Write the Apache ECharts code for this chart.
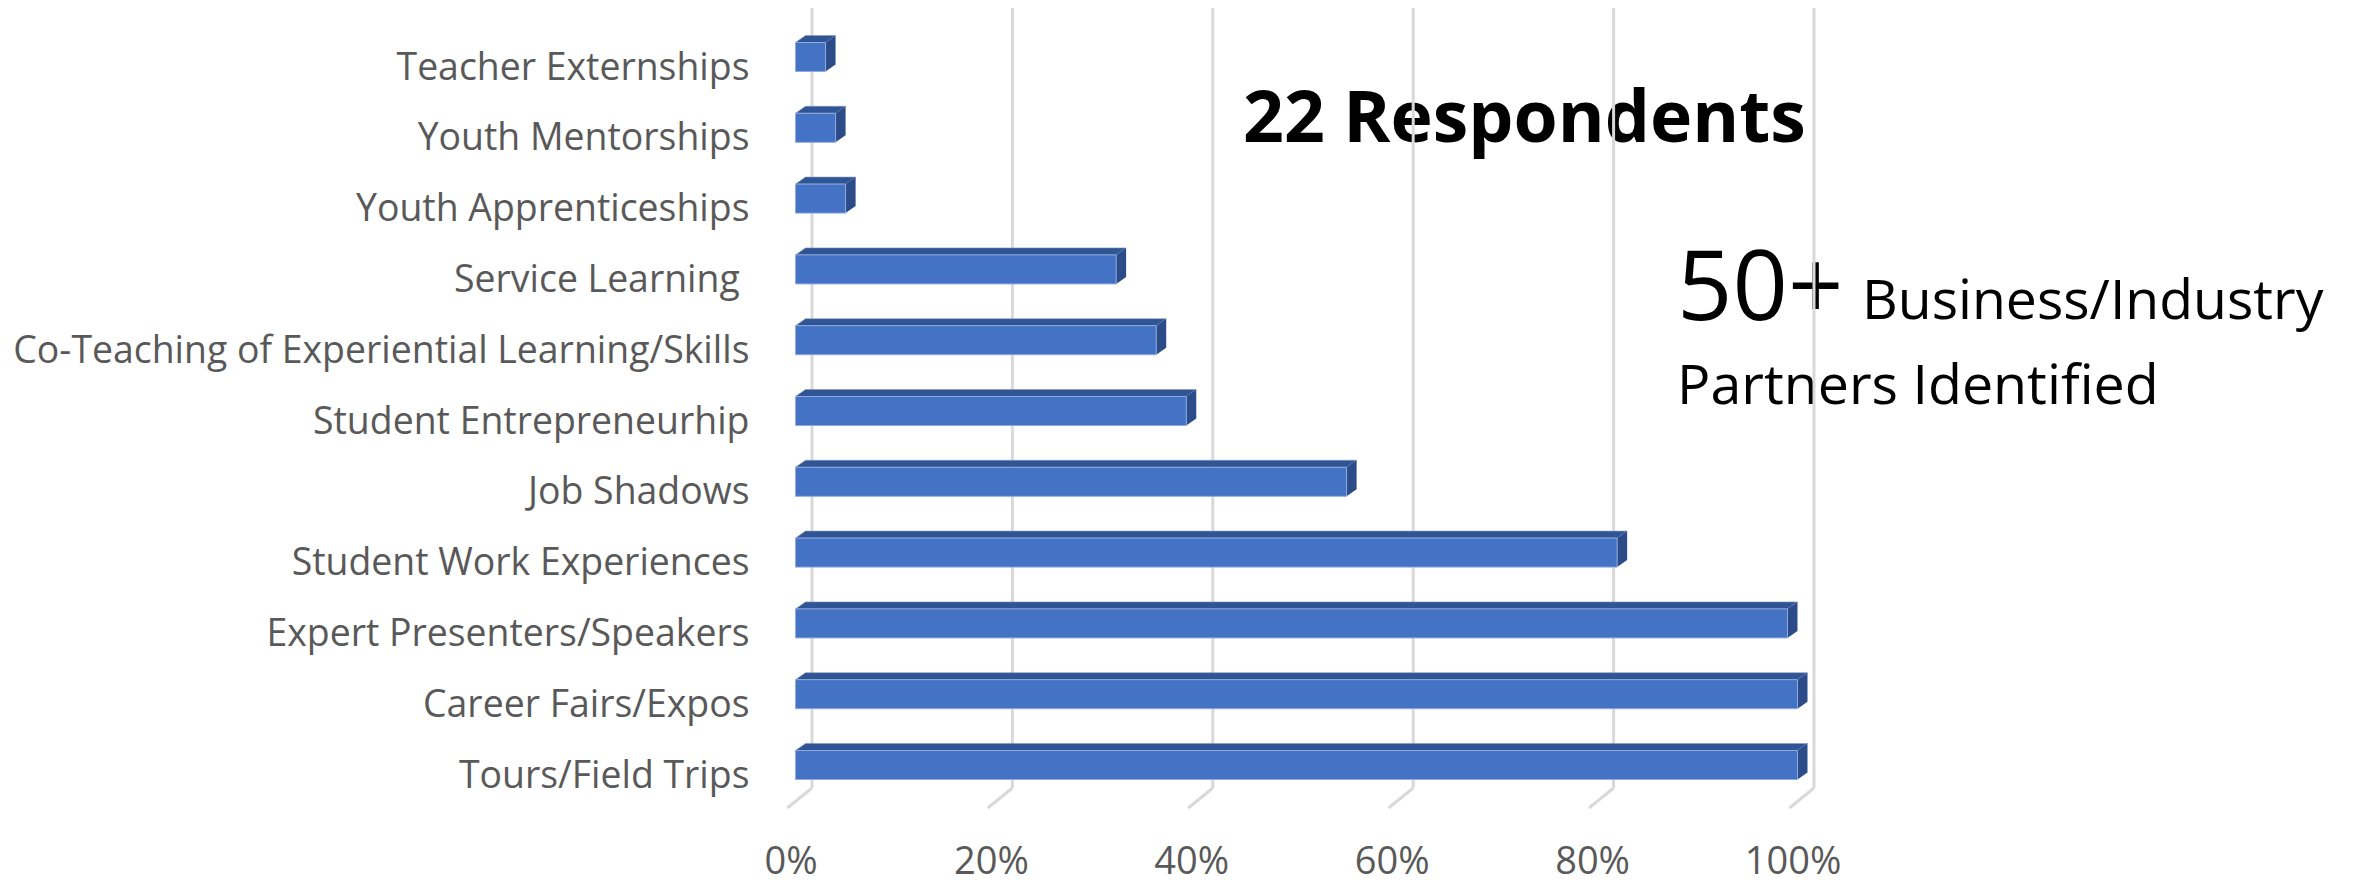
<!DOCTYPE html>
<html>
<head>
<meta charset="utf-8">
<script src="https://cdn.jsdelivr.net/npm/echarts@6/dist/echarts.min.js"></script>
<style>
  html, body { margin: 0; padding: 0; background: #ffffff; }
  #chart { width: 2354px; height: 886px; }
</style>
</head>
<body>
<div id="chart"></div>
<script>
// ---- data (bottom to top) ----
const categories = [
  'Tours/Field Trips',
  'Career Fairs/Expos',
  'Expert Presenters/Speakers',
  'Student Work Experiences',
  'Job Shadows',
  'Student Entrepreneurhip',
  'Co-Teaching of Experiential Learning/Skills',
  'Service Learning ',
  'Youth Apprenticeships',
  'Youth Mentorships',
  'Teacher Externships'
];
const values = [100, 100, 99, 82, 55, 39, 36, 32, 5, 4, 3];
const tickValues = [0, 20, 40, 60, 80, 100];

const FONT = "'Open Sans', 'Noto Sans', sans-serif";

const chart = echarts.init(document.getElementById('chart'), null, { renderer: 'svg' });

// 3D look parameters (pixels)
const DEPTH_X = 10, DEPTH_Y = 7;       // bar depth
const WALL_DX = 16.5, WALL_TOP = 13.6, WALL_BOT = 12.4; // back wall offset
const FLOOR_DX = -24.6, FLOOR_DY = 20; // floor lines

function renderGrid(params, api) {
  const v = api.value(0);
  const cs = params.coordSys;
  const p = api.coord([v, 0]);
  const bx = p[0] + WALL_DX;
  const yTop = cs.y - WALL_TOP;
  const yBot = cs.y + cs.height - WALL_BOT;
  const style = { stroke: '#D9D9D9', lineWidth: 3, fill: null };
  return {
    type: 'group',
    children: [
      { type: 'line', shape: { x1: bx, y1: yTop, x2: bx, y2: yBot }, style: style },
      { type: 'line', shape: { x1: bx, y1: yBot, x2: bx + FLOOR_DX, y2: yBot + FLOOR_DY }, style: style }
    ]
  };
}

function renderBar(params, api) {
  const cat = api.value(0);
  const val = api.value(1);
  const p0 = api.coord([0, cat]);
  const p1 = api.coord([val, cat]);
  const band = api.size([0, 1])[1];
  const h = band * 0.41;
  const x0 = p0[0], x1 = p1[0];
  const yT = p0[1] - h / 2, yB = p0[1] + h / 2;
  return {
    type: 'group',
    children: [
      { type: 'polygon', shape: { points: [[x0, yT], [x1, yT], [x1 + DEPTH_X, yT - DEPTH_Y], [x0 + DEPTH_X, yT - DEPTH_Y]] },
        style: { fill: '#2F5597', stroke: '#8797B5', lineWidth: 0.6 } },
      { type: 'polygon', shape: { points: [[x1, yT], [x1 + DEPTH_X, yT - DEPTH_Y], [x1 + DEPTH_X, yB - DEPTH_Y], [x1, yB]] },
        style: { fill: '#2B4C89' } },
      { type: 'rect', shape: { x: x0, y: yT, width: x1 - x0, height: h },
        style: { fill: '#4472C4', stroke: '#8FAADC', lineWidth: 1 } }
    ]
  };
}

const option = {
  backgroundColor: '#ffffff',
  animation: false,
  grid: { left: 795.5, width: 1002, top: 21.6, height: 778.8, containLabel: false },
  xAxis: {
    type: 'value', min: 0, max: 100, interval: 20,
    axisLine: { show: false }, axisTick: { show: false }, splitLine: { show: false },
    axisLabel: {
      formatter: '{value}%', color: '#595959', fontSize: 38, fontFamily: FONT,
      margin: 40, lineHeight: 38, padding: [0, 9, 0, 0]
    }
  },
  yAxis: {
    type: 'category', data: categories,
    axisLine: { show: false }, axisTick: { show: false }, splitLine: { show: false },
    axisLabel: {
      margin: 46,
      formatter: function (v) { return '{a|' + v + '}'; },
      rich: { a: { color: '#595959', fontSize: 37.4, fontFamily: FONT, padding: [16, 0, 0, 0] } }
    }
  },
  series: [
    {
      type: 'custom', name: 'grid', silent: true, z: 1,
      renderItem: renderGrid,
      data: tickValues.map(v => [v]),
      encode: { x: 0 }
    },
    {
      type: 'custom', name: 'Share', z: 2,
      renderItem: renderBar,
      data: values.map((v, i) => [i, v]),
      encode: { y: 0, x: 1 }
    }
  ],
  graphic: [
    { type: 'text', x: 1243, y: 114, style: { text: '22 Respondents', font: "bold 71.5px " + FONT, fill: '#000000', verticalAlign: 'middle' } },
    { type: 'text', x: 1677, y: 282, style: { text: '50+', font: "97px " + FONT, fill: '#000000', verticalAlign: 'middle' } },
    { type: 'text', x: 1862, y: 297, style: { text: 'Business/Industry', font: "55.3px " + FONT, fill: '#000000', verticalAlign: 'middle' } },
    { type: 'text', x: 1677, y: 382, style: { text: 'Partners Identified', font: "55.5px " + FONT, fill: '#000000', verticalAlign: 'middle' } }
  ]
};
chart.setOption(option);
</script>
</body>
</html>
